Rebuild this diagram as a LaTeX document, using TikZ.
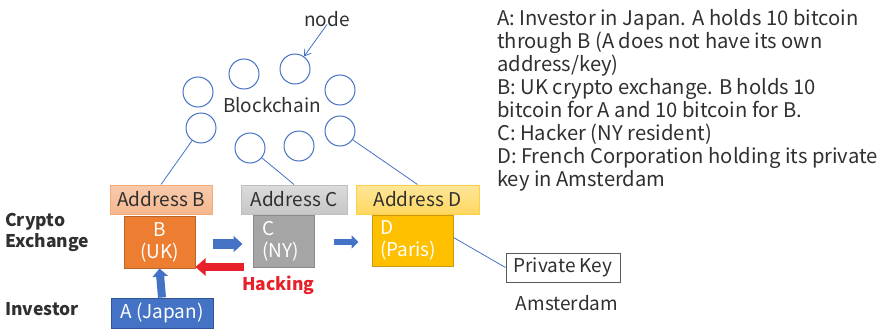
\documentclass[tikz,border=0pt]{standalone}
\usepackage{fontspec}
\setmainfont{Noto Sans CJK JP}
\usetikzlibrary{arrows.meta,calc}

\definecolor{inkdark}{HTML}{303030}
\definecolor{netblue}{HTML}{4472C4}
\definecolor{netbluedark}{HTML}{2F5597}
\definecolor{exorange}{HTML}{ED7D31}
\definecolor{exorangedark}{HTML}{B8652C}
\definecolor{hkgray}{HTML}{A5A5A5}
\definecolor{hkgraydark}{HTML}{8C8C8C}
\definecolor{frgold}{HTML}{FFC000}
\definecolor{frgolddark}{HTML}{C99A10}
\definecolor{hackred}{HTML}{E8202A}

\tikzset{
  txt/.style={font=\fontsize{19}{22}\selectfont, text=inkdark, inner sep=0pt},
  boldtxt/.style={txt, font=\fontsize{17.5}{21}\selectfont\bfseries},
  netnode/.style={circle, draw=netblue, line width=1pt, minimum size=30pt, inner sep=0pt},
  link/.style={draw=netblue, line width=0.8pt},
  addrbox/.style={rectangle, line width=1pt, minimum height=29pt, inner sep=0pt,
    font=\fontsize{19}{22}\selectfont, text=inkdark},
  partybox/.style={rectangle, line width=1pt, inner sep=0pt,
    font=\fontsize{19}{22}\selectfont, text=white},
}

\begin{document}
\begin{tikzpicture}[x=1pt, y=-1pt]
\useasboundingbox (0,0) rectangle (882,329);

% blockchain network
\node[netnode] (n1) at (198,92) {};
\node[netnode] (n2) at (244,74) {};
\node[netnode] (n3) at (295,69) {};
\node[netnode] (n4) at (340,90) {};
\node[netnode] (n5) at (201,128) {};
\node[netnode] (n6) at (250,148) {};
\node[netnode] (n7) at (299,146) {};
\node[netnode] (n8) at (340,131) {};
\node[txt, anchor=base] (chain) at (272,112) {Blockchain};
\node[txt, anchor=base] (nodelbl) at (327,27) {node};
\draw[link, -{Straight Barb[length=6pt,width=8pt]}] ([yshift=3pt]nodelbl.south) -- (n3);

% addresses
\node[addrbox, minimum width=102pt, top color=exorange!40!white, bottom color=exorange!55!white, draw=exorange!65!white] (addrB) at (161,199.5) {Address B};
\node[addrbox, minimum width=106pt, top color=black!14, bottom color=black!22, draw=black!25] (addrC) at (294,199.5) {Address C};
\node[addrbox, minimum width=123pt, top color=frgold!40!white, bottom color=frgold!62!white, draw=frgold!75!white] (addrD) at (417.5,199.5) {Address D};

% parties
\node[partybox, fill=exorange, draw=exorangedark, minimum width=71pt, minimum height=52pt, align=center] (B) at (159.5,242) {B\\(UK)};
\node[partybox, fill=hkgray, draw=hkgraydark, minimum width=61pt, minimum height=52pt, align=left, text width=43pt] (C) at (283.5,241) {C\\(NY)};
\node[partybox, fill=frgold, draw=frgolddark, minimum width=81pt, minimum height=51pt, align=left, text width=65pt] (D) at (412.5,240.5) {D\\(Paris)};
\node[partybox, fill=netblue, draw=netbluedark, minimum width=102pt, minimum height=30pt] (A) at (162,313) {A (Japan)};
\node[addrbox, minimum width=114pt, fill=white, draw=black!65] (pk) at (563,267.5) {Private Key};

% links from the network to the addresses and to the key
\draw[link] (n5) -- (addrB.north);
\draw[link] (n6) -- (addrC.north);
\draw[link] (n8) -- (addrD.north);
\draw[link] ([yshift=3pt]D.east) -- (pk.west);

% transfers
\draw[netblue, line width=8pt, -{Triangle[length=8pt,width=15pt]}] (A.north) -- (B.south);
\draw[netblue, line width=10pt, -{Triangle[length=9pt,width=16pt]}] ($(B.east)+(17,2)$) -- ($(C.west)+(-10,3)$);
\draw[netblue, line width=6.5pt, -{Triangle[length=7pt,width=13pt]}] ($(C.east)+(19,1)$) -- ($(D.west)+(-13,1.5)$);
\draw[hackred, line width=8pt, -{Triangle[length=10pt,width=17pt]}] ($(C.west)+(-9,26)$) -- ($(B.east)+(0,25)$);

% labels
\node[boldtxt, text=hackred, anchor=base west] (hack) at (242,290) {Hacking};
\node[boldtxt, anchor=base west] (exch) at (5,226) {Crypto};
\node[boldtxt, anchor=base west] (exch2) at (5,247) {Exchange};
\node[boldtxt, anchor=base west] (inv) at (5,315) {Investor};
\node[txt, anchor=base] (ams) at (567,310) {Amsterdam};

% legend
\node[txt, anchor=north west, align=left, font=\fontsize{20.2}{23.1}\selectfont] (legend) at (497,8.8)
{A: Investor in Japan. A holds 10 bitcoin\\
through B (A does not have its own\\
address/key)\\
B: UK crypto exchange. B holds 10\\
bitcoin for A and 10 bitcoin for B.\\
C: Hacker (NY resident)\\
D: French Corporation holding its private\\
key in Amsterdam};
\end{tikzpicture}
\end{document}
